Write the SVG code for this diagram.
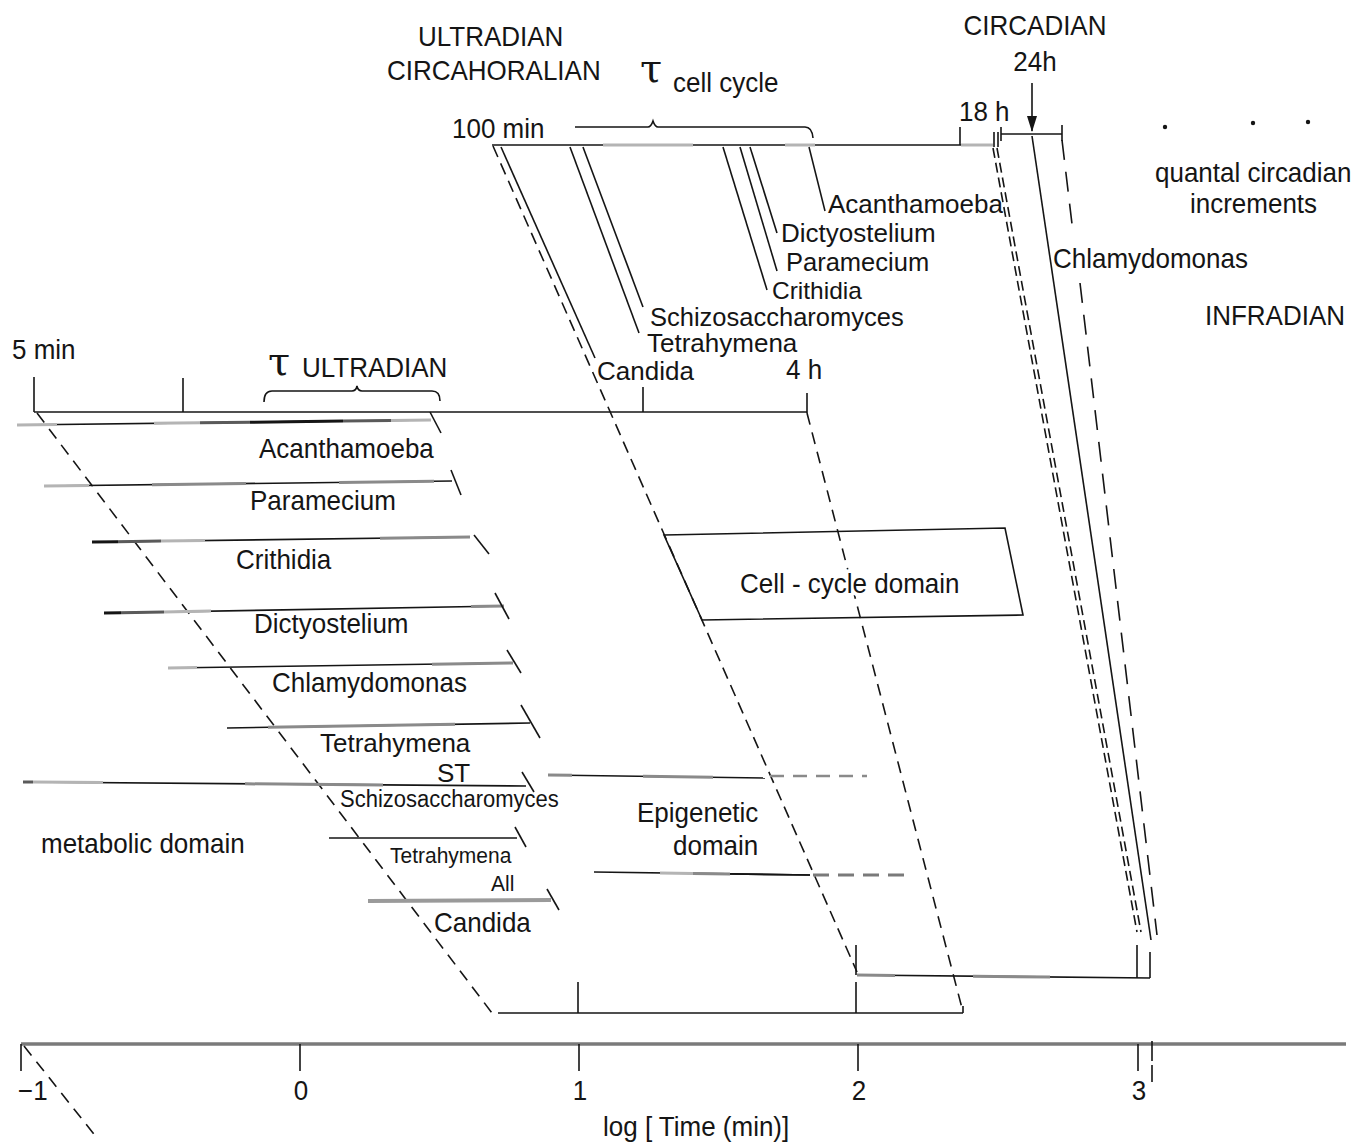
<svg xmlns="http://www.w3.org/2000/svg" width="1366" height="1146" viewBox="0 0 1366 1146">
<style>
.ln{stroke:#151515;stroke-width:1.6;fill:none;stroke-linecap:butt}
.th{stroke-width:3}
.lg{stroke:#b4b4b4;stroke-width:3}
.mg{stroke:#8a8a8a;stroke-width:3}
.dg{stroke:#5a5a5a;stroke-width:3}
.ds{stroke-dasharray:12 8}
.t{font-family:"Liberation Sans",Arial,Helvetica,sans-serif;font-size:26px;fill:#151515}
.s{font-size:21px}
.m{text-anchor:middle}
.tau{font-family:"DejaVu Serif","Liberation Serif",serif;font-size:40px;fill:#151515}
.wb{stroke:#fff;stroke-width:7;paint-order:stroke;stroke-linejoin:round}
</style>
<defs>
<marker id="ah" viewBox="0 0 16 10" refX="15" refY="5" markerWidth="16" markerHeight="11" markerUnits="userSpaceOnUse" orient="auto">
<path d="M0,0 L16,5 L0,10 Z" fill="#151515"/>
</marker>
</defs>
<rect width="1366" height="1146" fill="#fff"/>

<g id="main-axis">
<line x1="21" y1="1044" x2="1346" y2="1044" stroke="#7a7a7a" stroke-width="3.5"/>
<line class="ln" x1="21" y1="1044" x2="21" y2="1071"/>
<line class="ln" x1="300" y1="1044" x2="300" y2="1071"/>
<line class="ln" x1="579" y1="1044" x2="579" y2="1071" stroke="#555"/>
<line class="ln" x1="858" y1="1044" x2="858" y2="1071" stroke="#555"/>
<line class="ln" x1="1138" y1="1044" x2="1138" y2="1071"/>
<line class="ln" x1="1152" y1="1041" x2="1152" y2="1082" stroke-dasharray="20 4"/>
<text class="t" transform="translate(18,1100) scale(1,1.05)">−1</text>
<text class="t m" transform="translate(301,1100) scale(1,1.05)">0</text>
<text class="t m" transform="translate(580,1100) scale(1,1.05)">1</text>
<text class="t m" transform="translate(859,1100) scale(1,1.05)">2</text>
<text class="t m" transform="translate(1139,1100) scale(1,1.05)">3</text>
<text class="t" transform="translate(603,1136) scale(1,1.05)">log [ Time (min)]</text>
</g>

<g id="metabolic-axis">
<line class="ln" x1="34" y1="412" x2="807" y2="412"/>
<line class="ln" x1="34" y1="377" x2="34" y2="412"/>
<line class="ln" x1="183" y1="378" x2="183" y2="412"/>
<line class="ln" x1="643" y1="387" x2="643" y2="412"/>
<line class="ln" x1="807" y1="393" x2="807" y2="413"/>
<text class="t" transform="translate(12,359) scale(1,1.05)">5 min</text>
<path class="ln" d="M264,402 Q264,391 272,391 L352,391 Q356,391 357,386 Q358,391 362,391 L432,391 Q440,391 440,401"/>
<text class="tau" transform="translate(268,375)">τ</text>
<text class="t" transform="translate(302,377) scale(1,1.05)">ULTRADIAN</text>
<text class="t" transform="translate(786,379) scale(1,1.05)">4 h</text>
</g>

<g id="cellcycle-axis">
<line class="ln" x1="492" y1="145" x2="993" y2="145"/>
<line class="lg" x1="603" y1="145" x2="693" y2="145" stroke-width="2"/>
<line class="lg" x1="785" y1="145" x2="815" y2="145" stroke-width="2"/>
<line class="lg" x1="961" y1="145" x2="993" y2="145" stroke-width="2"/>
<line class="ln" x1="960" y1="127" x2="960" y2="145"/>
<path class="ln" d="M575,127 L648,127 Q651,127 653,121 Q655,127 658,127 L805,127 Q812,127 813,138"/>
<text class="t" transform="translate(452,138) scale(1,1.05)">100 min</text>
<text class="t" transform="translate(959,121) scale(1,1.05)">18 h</text>
<text class="t" transform="translate(418,46) scale(1,1.05)">ULTRADIAN</text>
<text class="t" transform="translate(387,80) scale(1,1.05)">CIRCAHORALIAN</text>
<text class="tau" transform="translate(640,82)">τ</text>
<text class="t" transform="translate(673,92) scale(1,1.05)">cell cycle</text>
</g>

<g id="circadian">
<line class="ln" x1="994" y1="132" x2="994" y2="147" stroke-width="1.3"/>
<line class="ln" x1="998" y1="132" x2="998" y2="147" stroke-width="1.3"/>
<line class="ln" x1="1001" y1="127" x2="1001" y2="141"/>
<line class="ln" x1="1001" y1="134" x2="1062" y2="134" stroke-width="3.5"/>
<line class="ln" x1="1062" y1="125" x2="1062" y2="141"/>
<line class="ln" x1="1032" y1="83" x2="1032" y2="131" marker-end="url(#ah)"/>
<text class="t m" transform="translate(1035,35) scale(1,1.05)">CIRCADIAN</text>
<text class="t m" transform="translate(1035,71) scale(1,1.05)">24h</text>
<circle cx="1165" cy="127" r="2.2" fill="#151515"/>
<circle cx="1253" cy="123" r="2.2" fill="#151515"/>
<circle cx="1308" cy="122" r="2.2" fill="#151515"/>
<text class="t" transform="translate(1155,182) scale(1,1.05)">quantal circadian</text>
<text class="t" transform="translate(1190,213) scale(1,1.05)">increments</text>
<text class="t" transform="translate(1205,325) scale(1,1.05)">INFRADIAN</text>
</g>

<g id="connectors">
<line class="ln ds" x1="37" y1="413" x2="492" y2="1013"/>
<line class="ln ds" x1="24" y1="1046" x2="97" y2="1138"/>
<line class="ln" x1="493" y1="146" x2="857" y2="972" stroke-dasharray="12 7"/>
<line class="ln ds" x1="807" y1="413" x2="963" y2="1012"/>
<line class="ln" x1="993" y1="148" x2="1137" y2="932" stroke-width="1.5" stroke-dasharray="10 5"/>
<line class="ln" x1="997" y1="148" x2="1141" y2="932" stroke-width="1.5" stroke-dasharray="10 5"/>
<line class="ln" x1="1032" y1="136" x2="1151" y2="940"/>
<line class="ln" x1="1062" y1="140" x2="1072" y2="224" stroke-dasharray="20 12"/>
<line class="ln" x1="1080" y1="283" x2="1157" y2="935" stroke-dasharray="20 12"/>
<line class="ln" x1="501" y1="147" x2="595" y2="358"/>
<line class="ln" x1="570" y1="147" x2="639" y2="333"/>
<line class="ln" x1="583" y1="147" x2="643" y2="307"/>
<line class="ln" x1="723" y1="147" x2="767" y2="290"/>
<line class="ln" x1="740" y1="147" x2="777" y2="271"/>
<line class="ln" x1="750" y1="147" x2="777" y2="233"/>
<line class="ln" x1="809" y1="147" x2="825" y2="211"/>
</g>

<g id="cell-cycle-labels">
<text class="t" transform="translate(828,213)">Acanthamoeba</text>
<text class="t" transform="translate(781,242)">Dictyostelium</text>
<text class="t" transform="translate(786,271)" style="font-size:25.5px">Paramecium</text>
<text class="t" transform="translate(772,299)" style="font-size:24.5px">Crithidia</text>
<text class="t" transform="translate(650,326)" style="font-size:25.5px">Schizosaccharomyces</text>
<text class="t" transform="translate(647,352)">Tetrahymena</text>
<text class="t" transform="translate(597,380)">Candida</text>
<text class="t" transform="translate(1053,268) scale(1,1.05)">Chlamydomonas</text>
</g>

<g id="bar-acanthamoeba">
<line class="ln" x1="17" y1="425" x2="431" y2="420"/>
<line class="lg" x1="17" y1="425" x2="57" y2="424.5"/>
<line class="lg" x1="154" y1="423.3" x2="200" y2="422.8"/>
<line class="dg" x1="200" y1="422.8" x2="250" y2="422.2"/>
<line class="ln th" x1="250" y1="422.2" x2="343" y2="421.1"/>
<line class="dg" x1="343" y1="421.1" x2="391" y2="420.5"/>
<line class="lg" x1="391" y1="420.5" x2="431" y2="420"/>
<line class="ln" x1="430" y1="412" x2="441" y2="433"/>
<text class="t" transform="translate(259,458) scale(1,1.05)">Acanthamoeba</text>
</g>

<g id="bar-paramecium">
<line class="ln" x1="44" y1="486" x2="452" y2="481"/>
<line class="lg" x1="44" y1="486" x2="89" y2="485.4"/>
<line class="mg" x1="152" y1="484.7" x2="246" y2="483.5" stroke-width="2"/>
<line class="mg" x1="339" y1="482.4" x2="434" y2="481.2" stroke-width="2"/>
<line class="ln" x1="451" y1="470" x2="461" y2="495"/>
<text class="t" transform="translate(250,510) scale(1,1.05)">Paramecium</text>
</g>

<g id="bar-crithidia">
<line class="ln" x1="92" y1="542" x2="470" y2="537"/>
<line class="ln th" x1="92" y1="542" x2="118" y2="541.7"/>
<line class="dg" x1="118" y1="541.7" x2="161" y2="541.1"/>
<line class="lg" x1="161" y1="541.1" x2="205" y2="540.5"/>
<line class="mg" x1="380" y1="538.2" x2="470" y2="537" stroke-width="2"/>
<line class="ln" x1="474" y1="535" x2="489" y2="554"/>
<text class="t" transform="translate(236,569) scale(1,1.05)">Crithidia</text>
</g>

<g id="bar-dictyostelium">
<line class="ln" x1="104" y1="613" x2="504" y2="606"/>
<line class="ln th" x1="104" y1="613" x2="121" y2="612.7"/>
<line class="dg" x1="121" y1="612.7" x2="164" y2="612"/>
<line class="lg" x1="164" y1="612" x2="211" y2="611.1"/>
<line class="mg" x1="471" y1="606.6" x2="504" y2="606" stroke-width="2"/>
<line class="ln" x1="495" y1="593" x2="509" y2="619"/>
<text class="t" transform="translate(254,633) scale(1,1.05)">Dictyostelium</text>
</g>

<g id="bar-chlamydomonas">
<line class="ln" x1="168" y1="668" x2="513" y2="663"/>
<line class="lg" x1="168" y1="668" x2="197" y2="667.6"/>
<line class="mg" x1="432" y1="664.2" x2="513" y2="663" stroke-width="2"/>
<line class="ln" x1="507" y1="650" x2="521" y2="673"/>
<text class="t" transform="translate(272,692) scale(1,1.05)">Chlamydomonas</text>
</g>

<g id="bar-tetrahymena-st">
<line class="ln" x1="227" y1="728" x2="530" y2="723"/>
<line class="mg" x1="268" y1="727.3" x2="455" y2="724.2" stroke-width="2"/>
<line class="ln" x1="521" y1="705" x2="540" y2="738"/>
<text class="t" transform="translate(320,752)">Tetrahymena</text>
<text class="t" transform="translate(437,782)">ST</text>
</g>

<g id="bar-schizosaccharomyces">
<line class="ln" x1="23" y1="782" x2="526" y2="786"/>
<line class="dg" x1="23" y1="782" x2="33" y2="782.1" stroke-width="4"/>
<line class="lg" x1="33" y1="782.1" x2="103" y2="782.6" stroke-width="4"/>
<line class="mg" x1="245" y1="783.8" x2="383" y2="784.9" stroke-width="2"/>
<line class="ln" x1="522" y1="772" x2="534" y2="792"/>
<text class="t" transform="translate(340,807) scale(1,1.05)" style="font-size:22px">Schizosaccharomyces</text>
</g>

<g id="bar-tetrahymena-all">
<line class="ln" x1="329" y1="838" x2="517" y2="838"/>
<line class="ln" x1="515" y1="827" x2="526" y2="847"/>
<text class="t s" transform="translate(390,863) scale(1,1.05)">Tetrahymena</text>
<text class="t s" transform="translate(491,891) scale(1,1.05)">All</text>
</g>

<g id="bar-candida">
<line x1="368" y1="901" x2="551" y2="900" stroke="#9a9a9a" stroke-width="4"/>
<line class="ln" x1="547" y1="889" x2="559" y2="910"/>
<text class="t" transform="translate(434,932) scale(1,1.05)">Candida</text>
</g>

<g id="metabolic-domain">
<text class="t" transform="translate(41,853) scale(1,1.05)">metabolic domain</text>
</g>

<g id="epigenetic-domain">
<line class="ln" x1="548" y1="775" x2="765" y2="778"/>
<line class="mg" x1="548" y1="775" x2="572" y2="775.3" stroke-width="2"/>
<line class="mg" x1="643" y1="776.3" x2="713" y2="777.3" stroke-width="2"/>
<line x1="770" y1="776" x2="867" y2="776" stroke="#8a8a8a" stroke-width="2.5" stroke-dasharray="14 9"/>
<line class="ln" x1="594" y1="872" x2="810" y2="875"/>
<line class="lg" x1="660" y1="872.9" x2="693" y2="873.4"/>
<line class="mg" x1="693" y1="873.4" x2="730" y2="873.9"/>
<line class="ln" x1="730" y1="873.9" x2="810" y2="875" stroke-width="3.5"/>
<line x1="813" y1="875" x2="910" y2="875" stroke="#7a7a7a" stroke-width="3" stroke-dasharray="16 9"/>
<text class="t" transform="translate(637,822) scale(1,1.05)">Epigenetic</text>
<text class="t" transform="translate(673,855) scale(1,1.05)">domain</text>
</g>

<g id="cell-cycle-domain">
<polygon class="ln" points="664,535 1005,528 1023,615 702,620"/>
<text class="t wb" transform="translate(740,593) scale(1,1.05)">Cell - cycle domain</text>
</g>

<g id="brackets">
<line class="ln" x1="498" y1="1013" x2="963" y2="1013"/>
<line class="ln" x1="578" y1="982" x2="578" y2="1013" stroke="#555"/>
<line class="ln" x1="856" y1="982" x2="856" y2="1013"/>
<line class="ln" x1="963" y1="1006" x2="963" y2="1013"/>
<line class="ln" x1="857" y1="975" x2="1150" y2="978"/>
<line class="mg" x1="857" y1="975" x2="895" y2="975.4" stroke-width="2"/>
<line class="mg" x1="973" y1="976.2" x2="1050" y2="977" stroke-width="2"/>
<line class="ln" x1="856" y1="945" x2="856" y2="975"/>
<line class="ln" x1="1137" y1="945" x2="1137" y2="978"/>
<line class="ln" x1="1150" y1="952" x2="1150" y2="978"/>
</g>
</svg>
